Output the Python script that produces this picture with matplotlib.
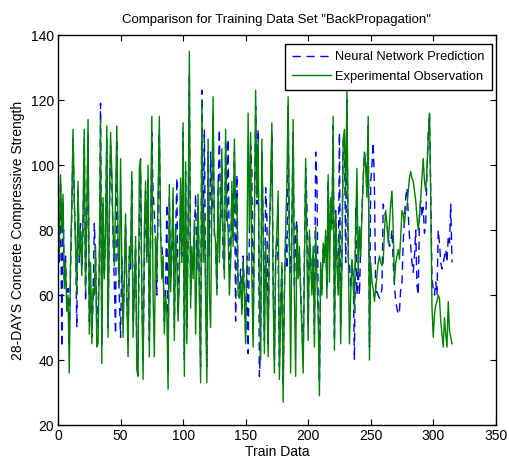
import matplotlib
matplotlib.use("Agg")
import matplotlib.pyplot as plt

plt.rcParams['font.family'] = ['Liberation Sans', 'DejaVu Sans']

title = 'Comparison for Training Data Set "BackPropagation"'
xlabel = "Train Data"
ylabel = "28-DAYS Concrete Compressive Strength"
series_names = ["Neural Network Prediction", "Experimental Observation"]
xticks = [0, 50, 100, 150, 200, 250, 300, 350]
yticks = [20, 40, 60, 80, 100, 120, 140]

experimental = [
    73, 97, 80, 91, 62, 70, 55, 60, 36, 70,
    88, 111, 90, 75, 60, 95, 72, 80, 66, 85,
    111, 61, 85, 114, 48, 70, 45, 62, 60, 75,
    44, 45, 70, 114, 39, 90, 65, 80, 112, 47,
    85, 110, 98, 80, 69, 90, 112, 75, 63, 102,
    70, 47, 65, 85, 60, 41, 75, 70, 98, 47,
    60, 78, 37, 35, 99, 102, 60, 34, 80, 95,
    70, 100, 41, 78, 115, 60, 41, 78, 65, 90,
    115, 80, 65, 72, 48, 60, 55, 31, 94, 61,
    75, 93, 46, 81, 70, 52, 65, 96, 70, 113,
    35, 101, 45, 80, 135, 56, 75, 65, 83, 48,
    70, 91, 60, 33, 120, 70, 85, 60, 33, 108,
    60, 50, 90, 121, 80, 76, 60, 95, 70, 85,
    105, 78, 65, 111, 85, 80, 60, 70, 95, 75,
    108, 85, 90, 60, 59, 65, 54, 70, 60, 45,
    70, 116, 80, 110, 65, 44, 80, 123, 90, 107,
    60, 40, 108, 80, 42, 76, 60, 41, 80, 95,
    113, 60, 36, 70, 80, 92, 34, 55, 70, 27,
    60, 80, 95, 121, 75, 36, 80, 114, 60, 35,
    81, 65, 75, 60, 49, 36, 70, 102, 75, 46,
    80, 70, 60, 75, 44, 81, 65, 54, 29, 70,
    60, 76, 70, 80, 59, 97, 64, 90, 80, 115,
    43, 85, 70, 60, 80, 45, 70, 108, 111, 90,
    123, 75, 45, 60, 71, 65, 55, 80, 99, 66,
    81, 72, 85, 95, 104, 99, 90, 115, 40, 70,
    64, 62, 58, 62, 66, 70, 72, 70, 69, 70,
    80, 86, 82, 76, 82, 88, 92, 80, 64, 70,
    72, 74, 71, 78, 86, 85, 82, 86, 87, 92,
    96, 98, 96, 95, 92, 89, 84, 80, 84, 90,
    96, 102, 95, 92, 99, 108, 116, 90, 56, 47,
    54, 57, 58, 60, 59, 52, 48, 44, 53, 48,
    44, 58, 49, 47, 45,
]

prediction = [
    70, 95, 44, 88, 65, 72, 58, 62, 45, 68,
    85, 108, 88, 78, 50, 92, 70, 82, 68, 80,
    108, 58, 82, 110, 52, 62, 47, 58, 82, 72,
    50, 57, 68, 119, 45, 88, 66, 78, 108, 50,
    82, 106, 95, 78, 64, 48, 108, 72, 60, 47,
    72, 52, 64, 82, 62, 46, 72, 68, 95, 52,
    64, 75, 42, 40, 80, 98, 62, 40, 69, 92,
    72, 96, 46, 76, 110, 92, 85, 75, 60, 88,
    110, 78, 75, 70, 52, 62, 88, 36, 90, 64,
    72, 90, 50, 78, 96, 54, 68, 92, 72, 110,
    40, 98, 50, 78, 128, 60, 72, 68, 80, 91,
    68, 88, 62, 38, 123, 75, 111, 64, 38, 104,
    72, 104, 86, 116, 78, 76, 62, 92, 111, 82,
    100, 70, 68, 108, 82, 108, 68, 72, 92, 78,
    104, 52, 97, 63, 62, 68, 56, 72, 62, 48,
    72, 42, 78, 106, 98, 48, 82, 118, 88, 111,
    35, 44, 104, 82, 46, 93, 84, 45, 78, 92,
    110, 65, 40, 72, 78, 70, 38, 58, 68, 32,
    62, 78, 68, 118, 73, 67, 82, 110, 62, 80,
    83, 68, 72, 62, 52, 40, 72, 99, 88, 50,
    78, 72, 62, 72, 48, 104, 95, 58, 33, 68,
    62, 74, 72, 78, 62, 95, 74, 88, 82, 112,
    46, 86, 72, 62, 110, 50, 72, 107, 108, 70,
    120, 72, 70, 62, 70, 66, 40, 87, 60, 68,
    60, 75, 86, 96, 104, 100, 97, 112, 44, 95,
    100, 107, 93, 60, 61, 60, 59, 60, 62, 88,
    86, 84, 82, 78, 75, 76, 80, 70, 63, 58,
    56, 54, 55, 62, 64, 76, 84, 90, 93, 85,
    78, 75, 70, 67, 72, 80, 63, 60, 85, 89,
    84, 87, 79, 82, 98, 110, 116, 92, 65, 62,
    60, 64, 60, 80, 76, 70, 68, 70, 72, 74,
    70, 78, 76, 88, 70,
]

x_pred = list(range(1, len(prediction) + 1))
x_exp = list(range(1, len(experimental) + 1))

fig = plt.figure(figsize=(5.09, 4.61), dpi=100)
ax = fig.add_axes([0.114, 0.078, 0.860, 0.846])

ax.plot(x_pred, prediction, color='#0000ff', linestyle=(0, (6, 4)), linewidth=1.0,
        label=series_names[0])
ax.plot(x_exp, experimental, color='#008000', linestyle='-', linewidth=1.0,
        label=series_names[1])

ax.set_xlim(0, 350)
ax.set_ylim(20, 140)
ax.set_xticks(xticks)
ax.set_yticks(yticks)
ax.tick_params(direction='in', top=True, right=True, labelsize=10, length=4,
               width=0.8, pad=3)
for s in ax.spines.values():
    s.set_linewidth(1.0)
    s.set_color('black')

ax.set_title(title, fontsize=9.5, pad=9)
ax.set_xlabel(xlabel, fontsize=10, labelpad=1)
ax.set_ylabel(ylabel, fontsize=10, labelpad=4)

leg = ax.legend(loc='upper right', bbox_to_anchor=(0.991, 0.977),
                fontsize=9.3, fancybox=False, framealpha=1,
                edgecolor='black', borderpad=0.55, labelspacing=0.6,
                handlelength=3.0, handletextpad=0.35, borderaxespad=0)
leg.get_frame().set_linewidth(1.0)

fig.savefig("out.png", dpi=100)
